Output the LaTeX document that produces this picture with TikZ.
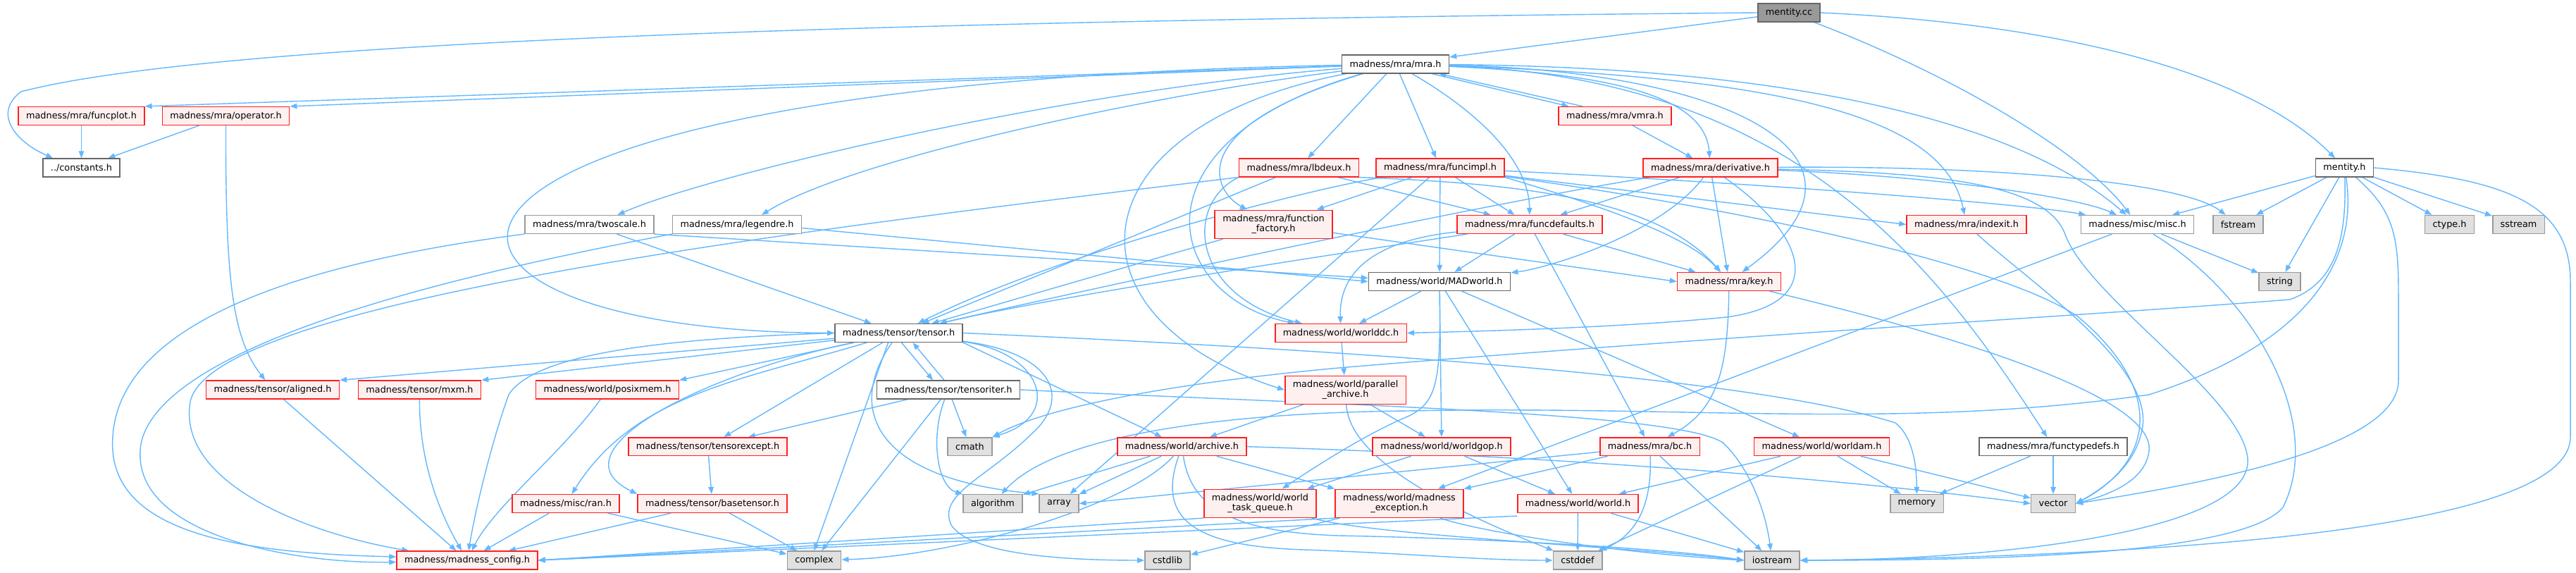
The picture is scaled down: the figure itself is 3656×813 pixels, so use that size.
\documentclass[tikz,border=0pt]{standalone}
\usepackage{fontspec}
\setmainfont{DejaVu Sans}
\usepackage{tikz}
\usetikzlibrary{arrows.meta,backgrounds}
\definecolor{dxedge}{HTML}{63B8FF}
\definecolor{dxred}{HTML}{FF2020}
\definecolor{dxpink}{HTML}{FFF0F0}
\definecolor{dxdark}{HTML}{666666}
\definecolor{dxgray}{HTML}{999999}
\definecolor{dxsys}{HTML}{E0E0E0}

\begin{document}
\begin{tikzpicture}[
    x=0.02cm, y=-0.02cm,
    hdr/.style={draw=dxdark, fill=white, line width=0.9pt,
                inner xsep=0.22cm, inner ysep=0pt, minimum height=0.512cm,
                font=\fontsize{7.3}{8.2}\selectfont, align=center},
    undoc/.style={hdr, draw=dxgray},
    trunc/.style={hdr, draw=dxred, fill=dxpink},
    sys/.style={hdr, draw=dxgray, fill=dxsys},
    root/.style={hdr, fill=dxgray},
    tall/.style={minimum height=0.8cm},
    dep/.style={-{Triangle[length=0.2cm, width=0.15cm]}, draw=dxedge, line width=0.8pt}
]
  \useasboundingbox (0,0) rectangle (3656,813);

  % source file and mra level
  \node[root] (cc) at (2539,18) {mentity.cc};
  \node[hdr] (mra) at (1980.5,91) {madness/mra/mra.h};
  \node[trunc] (funcplot) at (115.5,164.5) {madness/mra/funcplot.h};
  \node[trunc] (operator) at (320.5,164.5) {madness/mra/operator.h};
  \node[trunc] (vmra) at (2292,164.5) {madness/mra/vmra.h};
  \node[hdr] (consts) at (115.5,238) {../constants.h};
  \node[trunc] (lbdeux) at (1843.5,238) {madness/mra/lbdeux.h};
  \node[trunc] (funcimpl) at (2044,238) {madness/mra/funcimpl.h};
  \node[trunc] (deriv) at (2427.5,238) {madness/mra/derivative.h};
  \node[hdr] (mentityh) at (3327.5,238) {mentity.h};
  \node[undoc] (twoscale) at (836.5,318.5) {madness/mra/twoscale.h};
  \node[undoc] (legendre) at (1046,318.5) {madness/mra/legendre.h};
  \node[trunc, tall] (ffactory) at (1807.5,318.3) {madness/mra/function\\\_factory.h};
  \node[trunc] (fdefaults) at (2171,318.5) {madness/mra/funcdefaults.h};
  \node[trunc] (indexit) at (2791,318.5) {madness/mra/indexit.h};
  \node[undoc] (misc) at (3033.5,318.5) {madness/misc/misc.h};
  \node[sys] (fstream) at (3176.5,318.5) {fstream};
  \node[sys] (ctype) at (3476.5,318.5) {ctype.h};
  \node[sys] (sstream) at (3574.5,318.5) {sstream};
  \node[hdr] (madworld) at (2043,399.5) {madness/world/MADworld.h};
  \node[trunc] (key) at (2454,399.5) {madness/mra/key.h};
  \node[sys] (string) at (3235.5,399.5) {string};

  % tensor and world level
  \node[hdr] (tensor) at (1275.5,472.5) {madness/tensor/tensor.h};
  \node[trunc] (worldddc) at (1903,472.5) {madness/world/worlddc.h};
  \node[trunc] (aligned) at (387,553) {madness/tensor/aligned.h};
  \node[trunc] (mxm) at (595.5,553) {madness/tensor/mxm.h};
  \node[trunc] (posixmem) at (862,553) {madness/world/posixmem.h};
  \node[hdr] (tensoriter) at (1346,553) {madness/tensor/tensoriter.h};
  \node[trunc, tall] (parallel) at (1909.5,553.3) {madness/world/parallel\\\_archive.h};
  \node[trunc] (texcept) at (1004.5,633.7) {madness/tensor/tensorexcept.h};
  \node[sys] (cmath) at (1376.5,633.7) {cmath};
  \node[trunc] (archive) at (1677.5,633.7) {madness/world/archive.h};
  \node[trunc] (worldgop) at (2046,633.7) {madness/world/worldgop.h};
  \node[trunc] (bc) at (2341.5,633.7) {madness/mra/bc.h};
  \node[trunc] (worldam) at (2585.5,633.7) {madness/world/worldam.h};
  \node[hdr] (functypedefs) at (2914,633.7) {madness/mra/functypedefs.h};
  \node[trunc] (ran) at (803,714.5) {madness/misc/ran.h};
  \node[trunc] (basetensor) at (1011,714.5) {madness/tensor/basetensor.h};
  \node[sys] (algorithm) at (1409,714.5) {algorithm};
  \node[sys] (array) at (1503,714.5) {array};
  \node[trunc, tall] (taskq) at (1788.5,714.3) {madness/world/world\\\_task\_queue.h};
  \node[trunc, tall] (mexcept) at (1986,714.3) {madness/world/madness\\\_exception.h};
  \node[trunc] (world) at (2239.5,714.5) {madness/world/world.h};
  \node[sys] (memory) at (2720.5,714.5) {memory};
  \node[sys] (vector) at (2914,714.5) {vector};
  \node[trunc] (config) at (663,795) {madness/madness\_config.h};
  \node[sys] (complex) at (1155.5,795) {complex};
  \node[sys] (cstdlib) at (1657,795) {cstdlib};
  \node[sys] (cstddef) at (2239,795) {cstddef};
  \node[sys] (iostream) at (2515,795) {iostream};

  \begin{scope}[on background layer]
  \fill[white] (0,0) rectangle (3656,813);

  % mentity.cc
  \draw[dep] (cc) -- (mra);
  \draw[dep] (cc.west) .. controls (1200,30) and (300,60) .. (30,130)
    .. controls (-10,160) and (20,200) .. ([xshift=0.3cm]consts.north west);
  \draw[dep] (cc) .. controls (2780,110) and (2960,220) .. (misc);
  \draw[dep] (cc.east) .. controls (2950,35) and (3200,110) .. (mentityh);

  % mra.h
  \draw[dep] (mra) -- (funcplot.north east);
  \draw[dep] (mra) -- (operator.north east);
  \draw[dep] (mra) .. controls (1500,130) and (1000,250) .. ([xshift=0.8cm]twoscale.north);
  \draw[dep] (mra) .. controls (1600,140) and (1200,230) .. ([xshift=0.7cm]legendre.north);
  \draw[dep] (mra) .. controls (450,120) and (500,470) .. (tensor.west);
  \draw[dep] (mra) -- (lbdeux);
  \draw[dep] (mra) .. controls (1680,180) and (1720,270) .. (ffactory);
  \draw[dep] (mra) -- (funcimpl);
  \draw[dep] (mra) .. controls (2100,160) and (2170,230) .. (fdefaults);
  \draw[dep] ([xshift=-0.5cm]mra.south east) -- ([xshift=0.3cm]vmra.north west);
  \draw[dep] (mra) .. controls (2300,105) and (2420,140) .. (deriv);
  \draw[dep] (mra) .. controls (2450,100) and (2700,220) .. (key);
  \draw[dep] (mra) .. controls (2550,110) and (2760,170) .. (indexit);
  \draw[dep] (mra) .. controls (2500,95) and (2850,160) .. (misc);
  \draw[dep] (mra) .. controls (1600,200) and (1650,420) .. (worldddc);
  \draw[dep] (mra) .. controls (1520,180) and (1500,450) .. (parallel.west);
  \draw[dep] (mra) .. controls (2550,110) and (2750,380) .. (functypedefs);

  % second row
  \draw[dep] (funcplot) -- (consts);
  \draw[dep] (operator) -- (consts);
  \draw[dep] (operator.south) .. controls (320,400) and (330,480) .. (aligned);
  \draw[dep] ([xshift=0.7cm]vmra.north west) -- ([xshift=-0.3cm]mra.south east);
  \draw[dep] (vmra) -- (deriv);

  % twoscale, legendre, lbdeux
  \draw[dep] (twoscale) -- (tensor);
  \draw[dep] (twoscale.south east) -- ([yshift=0.1cm]madworld.west);
  \draw[dep] (twoscale.south west) .. controls (450,370) and (170,450) .. (160,620)
    .. controls (150,760) and (350,785) .. ([yshift=0.1cm]config.west);
  \draw[dep] ([yshift=-0.1cm]legendre.east) -- (madworld.west);
  \draw[dep] (legendre.south west) .. controls (700,380) and (230,480) .. (200,630)
    .. controls (180,760) and (420,800) .. ([yshift=-0.05cm]config.west);
  \draw[dep] (lbdeux) -- (fdefaults);
  \draw[dep] (lbdeux.south east) .. controls (2150,260) and (2350,280) .. (key);
  \draw[dep] (lbdeux) -- (tensor);
  \draw[dep] (lbdeux.south west) .. controls (1680,290) and (1690,420) .. (worldddc);
  \draw[dep] (lbdeux.south west) .. controls (1100,330) and (300,430) .. (270,570)
    .. controls (250,690) and (450,760) .. (config);

  % function_factory, funcimpl
  \draw[dep] (ffactory) -- (key.west);
  \draw[dep] (ffactory) -- (tensor);
  \draw[dep] (funcimpl) -- (ffactory);
  \draw[dep] (funcimpl) -- (fdefaults);
  \draw[dep] (funcimpl) -- (madworld);
  \draw[dep] (funcimpl.south east) .. controls (2300,300) and (2400,340) .. (key);
  \draw[dep] (funcimpl) -- (indexit.west);
  \draw[dep] (funcimpl) .. controls (2500,260) and (2880,290) .. (misc);
  \draw[dep] (funcimpl) .. controls (1850,270) and (1500,360) .. (tensor);
  \draw[dep] (funcimpl) -- (array);
  \draw[dep] (funcimpl) .. controls (2500,300) and (2850,380) .. (2950,450)
    .. controls (3080,560) and (3050,660) .. (vector.east);

  % derivative
  \draw[dep] (deriv) -- (fdefaults);
  \draw[dep] (deriv) -- (key);
  \draw[dep] (deriv) .. controls (2360,330) and (2200,380) .. (madworld);
  \draw[dep] (deriv) .. controls (2100,290) and (1500,420) .. (tensor);
  \draw[dep] (deriv) .. controls (2560,330) and (2600,430) .. (2450,450)
    .. controls (2300,465) and (2100,470) .. (worldddc.east);
  \draw[dep] (deriv) .. controls (2750,250) and (2950,280) .. (misc);
  \draw[dep] (deriv) .. controls (2850,235) and (3100,260) .. (fstream);
  \draw[dep] (deriv) .. controls (2750,245) and (2900,260) .. (2930,330)
    .. controls (2960,420) and (3180,560) .. (3190,650)
    .. controls (3200,760) and (2800,795) .. (iostream.east);

  % funcdefaults
  \draw[dep] (fdefaults) -- (madworld);
  \draw[dep] (fdefaults) -- (key);
  \draw[dep] (fdefaults) -- (bc);
  \draw[dep] (fdefaults) .. controls (1960,340) and (1900,380) .. (worldddc);
  \draw[dep] (fdefaults) .. controls (1900,360) and (1500,420) .. (tensor);

  % misc.h, indexit.h, mentity.h
  \draw[dep] (misc) -- (string);
  \draw[dep] (misc) -- (mexcept);
  \draw[dep] (misc) .. controls (3200,420) and (3300,600) .. (3240,720)
    .. controls (3180,790) and (2800,795) .. (iostream.east);
  \draw[dep] (indexit) .. controls (2880,400) and (3060,520) .. (3040,610)
    .. controls (3030,660) and (2990,690) .. (vector.east);
  \draw[dep] (mentityh) -- (misc);
  \draw[dep] (mentityh) -- (fstream);
  \draw[dep] (mentityh) -- (string);
  \draw[dep] (mentityh) -- (ctype);
  \draw[dep] (mentityh) -- (sstream);
  \draw[dep] (mentityh) .. controls (3400,300) and (3404,340) .. (3404,420) -- (3404,540)
    .. controls (3404,640) and (3100,690) .. (vector.east);
  \draw[dep] (mentityh.east) .. controls (3560,255) and (3648,290) .. (3648,400) -- (3648,620)
    .. controls (3648,760) and (3000,790) .. (iostream.east);
  \draw[dep] (mentityh) .. controls (3330,330) and (3320,400) .. (3250,425)
    .. controls (3000,445) and (2400,480) .. (1900,522)
    .. controls (1650,545) and (1480,580) .. (cmath.north east);
  \draw[dep] (mentityh) .. controls (3345,350) and (3300,480) .. (3050,560)
    .. controls (2700,610) and (2400,575) .. (2000,583)
    .. controls (1750,585) and (1500,615) .. (algorithm);

  % MADworld, key, worlddc, parallel archive
  \draw[dep] (madworld) -- (worldddc);
  \draw[dep] (madworld) -- (worldgop);
  \draw[dep] (madworld) -- (world);
  \draw[dep] (madworld) -- (worldam);
  \draw[dep] (madworld) .. controls (2045,540) and (2040,570) .. (2000,590)
    .. controls (1940,615) and (1870,660) .. (taskq);
  \draw[dep] (key) .. controls (2452,520) and (2440,580) .. (bc);
  \draw[dep] (key) .. controls (2750,470) and (3060,560) .. (3050,640)
    .. controls (3045,680) and (3000,700) .. (vector.east);
  \draw[dep] (worldddc) -- (parallel);
  \draw[dep] (parallel) -- (archive);
  \draw[dep] (parallel) -- (worldgop);
  \draw[dep] (parallel) .. controls (1915,650) and (2050,720) .. (cstddef);

  % tensor.h
  \draw[dep] (tensor) -- (aligned.north east);
  \draw[dep] (tensor) -- (mxm.north east);
  \draw[dep] (tensor) -- (posixmem.north east);
  \draw[dep] (tensor) -- (texcept);
  \draw[dep] (tensor) .. controls (1050,540) and (900,560) .. (ran);
  \draw[dep] (tensor) .. controls (1000,530) and (780,640) .. (basetensor.north west);
  \draw[dep] (tensor.west) .. controls (950,480) and (760,500) .. (722,560)
    .. controls (700,620) and (675,720) .. (config);
  \draw[dep] ([xshift=-0.3cm]tensor.south) -- (complex.north);
  \draw[dep] ([xshift=0.08cm]tensor.south) -- ([xshift=-0.44cm]tensoriter.north);
  \draw[dep] (tensor) .. controls (1200,580) and (1240,680) .. (array.north west);
  \draw[dep] (tensor) .. controls (1480,500) and (1510,590) .. (cmath.north east);
  \draw[dep] (tensor) .. controls (1490,500) and (1520,560) .. (1470,610)
    .. controls (1400,680) and (1330,700) .. (1350,745)
    .. controls (1380,790) and (1530,795) .. (cstdlib.west);
  \draw[dep] (tensor.south east) -- (archive);
  \draw[dep] (tensor.east) .. controls (2000,500) and (2500,540) .. (2690,600)
    .. controls (2715,620) and (2720,660) .. (memory);

  % tensoriter.h and below
  \draw[dep] ([xshift=-0.12cm]tensoriter.north) -- ([xshift=0.4cm]tensor.south);
  \draw[dep] (tensoriter) -- (texcept);
  \draw[dep] (tensoriter) -- (cmath);
  \draw[dep] (tensoriter) -- (complex);
  \draw[dep] (tensoriter) .. controls (1320,620) and (1330,690) .. (algorithm);
  \draw[dep] (tensoriter.east) .. controls (1900,575) and (2380,585) .. (2445,628)
    .. controls (2480,660) and (2505,720) .. (iostream);
  \draw[dep] (texcept) -- (basetensor);
  \draw[dep] (basetensor) -- (config);
  \draw[dep] (basetensor) -- (complex);
  \draw[dep] (ran) -- (config);
  \draw[dep] (ran) -- (complex);
  \draw[dep] (aligned) -- (config);
  \draw[dep] (mxm) .. controls (595,650) and (620,720) .. (config);
  \draw[dep] (posixmem) .. controls (800,640) and (700,720) .. (config);

  % archive
  \draw[dep] (archive) -- (algorithm);
  \draw[dep] (archive) -- (array);
  \draw[dep] (archive) .. controls (1600,720) and (1350,790) .. (complex);
  \draw[dep] (archive) .. controls (1640,740) and (1700,775) .. (1850,780)
    .. controls (2000,785) and (2100,795) .. (cstddef);
  \draw[dep] (archive) .. controls (1690,720) and (1750,755) .. (1900,760)
    .. controls (2150,765) and (2380,780) .. (iostream.west);
  \draw[dep] (archive) -- (mexcept.north west);
  \draw[dep] (archive.east) .. controls (2300,650) and (2700,690) .. (vector.west);

  % world layer
  \draw[dep] (worldgop) -- (world);
  \draw[dep] (worldgop) -- (taskq);
  \draw[dep] (bc) -- (mexcept);
  \draw[dep] (bc) .. controls (2345,720) and (2320,760) .. (cstddef);
  \draw[dep] (bc) -- (iostream);
  \draw[dep] ([yshift=-0.15cm]bc.west) -- (array.east);
  \draw[dep] (worldam) -- (world);
  \draw[dep] (worldam) -- (cstddef);
  \draw[dep] (worldam) -- (memory);
  \draw[dep] (worldam) -- (vector);
  \draw[dep] (functypedefs) -- (memory);
  \draw[dep] (functypedefs) -- (vector);
  \draw[dep] ([yshift=-0.08cm]world.south west) -- (config.east);
  \draw[dep] (world) -- (cstddef);
  \draw[dep] (world) -- (iostream);
  \draw[dep] (taskq.south west) -- (config.east);
  \draw[dep] (taskq) .. controls (1950,760) and (2300,775) .. (iostream.west);
  \draw[dep] (mexcept) -- (cstdlib);
  \draw[dep] (mexcept.south west) -- (config.east);
  \draw[dep] (mexcept) .. controls (2100,755) and (2300,785) .. (iostream.west);
  \end{scope}
\end{tikzpicture}
\end{document}
